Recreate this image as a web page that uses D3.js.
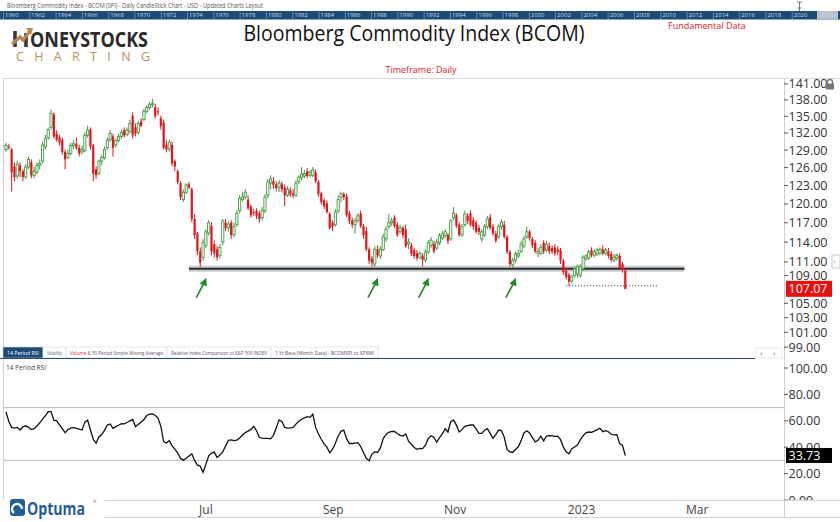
<!DOCTYPE html>
<html><head><meta charset="utf-8">
<script src="https://cdn.jsdelivr.net/npm/d3@7"></script>
<style>body{margin:0;background:#fff;overflow:hidden}svg{display:block;font-family:"Open Sans",sans-serif}</style>
</head><body><svg id="c" width="840" height="522"></svg>
<script>
const startDate = "2022-03-25";
const open = [
129.1,129.6,129.1,126.2,124.6,126.4,125.4,124.4,126.1,126.9,
124.7,125.2,126.4,127.1,129.6,131.2,133.0,135.3,131.9,131.2,
130.8,128.7,127.7,128.4,129.8,130.1,129.4,128.7,128.9,131.6,
132.6,129.8,125.7,125.0,127.1,127.7,129.4,130.8,131.4,129.9,
130.7,131.4,132.5,131.7,132.3,135.1,133.0,132.1,134.1,134.4,
135.9,136.6,137.1,136.7,135.9,134.6,133.9,129.9,129.2,129.9,
127.1,125.4,123.4,120.7,121.9,123.2,122.4,117.6,115.3,112.6,
111.7,113.5,115.4,116.5,113.7,112.9,112.0,114.0,117.0,116.2,
117.0,115.1,116.7,118.9,120.7,121.1,120.7,119.6,118.7,118.9,
118.5,117.8,118.9,121.4,123.4,123.7,123.2,122.7,123.2,122.7,
121.4,122.2,121.7,121.4,123.7,124.4,124.6,125.4,124.7,124.7,
125.2,123.6,121.7,120.6,120.1,118.4,117.0,116.7,118.9,121.1,
121.6,121.2,118.5,117.4,116.7,117.4,118.5,116.5,115.7,112.9,
111.5,110.7,112.9,111.9,112.9,114.5,116.4,117.0,117.8,116.7,
115.6,116.2,116.0,113.7,113.5,112.8,112.3,111.6,111.9,111.3,
112.5,113.5,113.7,113.1,113.9,114.6,115.0,115.1,114.5,117.8,
118.2,116.7,115.1,116.7,118.1,118.5,117.4,117.0,116.2,114.5,
115.1,116.4,117.9,116.4,115.3,114.8,116.4,116.7,114.8,112.5,
110.6,111.3,111.9,112.6,113.4,114.8,115.6,114.5,113.9,112.3,
112.3,113.9,112.8,113.4,113.1,113.2,112.9,112.8,111.2,109.7,
109.1,108.2,109.0,109.2,109.0,110.0,111.5,111.6,112.8,112.0,
112.2,112.3,112.9,112.3,112.6,112.2,111.3,111.6,111.9,110.7,
109.7];
const high = [
130.3,130.1,129.4,126.9,127.2,126.9,125.7,126.6,127.9,127.4,
126.1,126.9,127.4,130.5,131.7,133.0,136.2,135.7,132.5,131.7,
131.2,129.1,129.1,130.3,130.7,131.2,129.9,129.8,132.1,133.3,
133.0,130.1,126.2,127.4,128.2,129.6,131.2,132.5,131.9,131.0,
131.9,132.6,133.0,133.0,134.4,135.7,133.7,134.2,134.6,136.4,
137.1,137.6,138.2,137.3,136.6,135.1,134.4,130.7,130.8,130.5,
127.4,125.7,123.7,122.4,123.4,123.6,122.7,118.4,115.6,113.2,
114.5,116.0,117.4,117.1,114.2,113.4,113.7,117.6,117.6,117.3,
117.4,117.0,119.0,121.4,121.9,122.4,121.4,119.9,119.2,119.3,
118.9,119.5,121.6,124.1,124.7,124.4,123.7,123.9,123.7,123.2,
122.9,122.7,122.4,123.9,124.7,126.1,125.6,125.9,125.6,126.1,
125.7,123.9,122.0,120.9,120.6,118.7,117.4,119.2,121.4,122.0,
121.9,121.7,118.9,117.8,117.8,118.5,118.9,116.8,116.4,113.2,
111.9,113.4,113.5,113.4,115.3,116.5,118.4,117.8,118.2,117.1,
116.7,116.5,116.7,114.6,113.9,113.1,112.8,112.6,112.3,112.9,
114.3,114.8,114.2,114.5,115.4,115.7,116.0,115.4,117.6,119.5,
118.5,117.1,116.8,118.9,118.5,119.0,117.9,117.4,116.7,116.0,
116.8,118.1,118.4,116.8,115.7,116.8,117.6,117.3,115.1,112.8,
111.6,112.6,112.8,114.2,115.0,116.4,115.9,114.8,114.3,113.1,
113.7,114.3,114.2,113.9,113.5,113.7,113.4,113.1,111.5,110.0,
109.4,109.1,110.3,110.6,110.7,112.0,112.2,112.8,113.2,112.9,
113.1,113.2,113.5,113.1,113.1,112.6,112.2,112.3,112.3,111.0,
110.0];
const low = [
128.7,129.1,122.0,123.7,124.1,124.4,123.7,124.1,125.7,124.2,
124.2,124.9,125.7,126.7,129.1,130.8,132.6,131.0,130.5,129.8,
128.2,125.7,127.4,128.1,129.2,129.1,127.9,128.2,128.6,131.2,
129.1,123.7,124.1,124.7,126.4,127.4,129.1,130.5,127.9,129.4,
130.3,131.0,131.2,131.4,131.9,131.0,131.4,131.7,133.0,134.1,
135.5,136.2,136.6,134.6,135.1,132.6,129.1,128.6,128.7,126.2,
125.4,123.2,120.6,120.3,121.6,122.4,117.1,114.5,112.0,110.3,
111.2,113.1,115.0,112.0,111.7,111.2,111.5,113.5,115.7,115.6,
114.5,114.8,116.4,118.5,120.4,120.7,119.0,117.8,118.1,117.6,
117.0,117.3,118.5,120.9,122.4,122.4,122.0,121.9,121.9,119.6,
121.1,121.1,120.9,121.1,123.2,123.9,124.2,124.2,124.4,124.4,
123.4,121.2,119.9,119.2,118.4,115.9,115.7,116.4,118.5,120.3,
120.6,117.9,116.8,116.2,115.3,117.0,116.2,114.5,112.6,110.7,
110.3,110.3,111.6,111.5,112.6,114.0,116.0,116.5,116.2,114.8,
115.3,114.6,113.1,112.9,111.9,111.5,111.2,111.5,110.3,110.9,
112.2,113.1,112.3,112.8,113.5,114.3,114.6,113.7,114.2,117.4,
116.2,114.8,114.8,116.4,116.8,116.4,115.9,115.3,115.1,114.0,
114.8,116.0,115.9,115.0,113.9,114.5,115.9,114.5,112.2,110.3,
110.1,110.9,111.6,112.3,113.1,114.5,114.2,113.1,112.3,111.7,
112.0,112.2,112.5,112.2,112.2,111.9,112.0,110.7,109.1,108.4,
107.5,107.8,108.7,108.7,108.7,109.7,111.2,111.3,111.7,111.7,
111.9,112.0,112.0,112.0,111.5,111.0,111.0,111.2,109.8,109.4,
107.0];
const close = [
129.8,129.4,125.2,124.4,126.6,125.4,124.4,126.1,127.4,124.7,
125.4,126.4,126.7,129.9,131.0,132.6,135.5,131.4,130.8,130.3,
128.7,127.4,128.4,129.8,130.1,129.4,128.4,129.1,131.6,132.5,
129.6,125.0,124.7,127.1,127.7,129.1,130.7,131.9,129.4,130.7,
131.4,132.1,131.6,132.5,133.7,131.6,131.9,133.7,133.3,135.9,
136.6,137.1,137.3,135.0,135.7,133.2,129.4,129.1,130.3,126.7,
126.2,123.6,121.1,121.9,123.1,122.7,117.6,115.1,112.6,110.9,
113.9,115.6,117.0,112.6,112.3,111.7,113.2,117.3,116.2,116.8,
115.1,116.4,118.5,120.9,121.1,121.9,119.3,118.2,118.5,118.1,
117.6,119.0,121.1,123.6,124.1,123.1,122.6,123.4,122.4,121.4,
122.4,121.6,121.4,123.4,124.4,124.9,125.0,124.6,125.2,125.6,
123.7,121.6,120.3,119.6,118.7,116.2,116.4,118.7,120.7,121.7,
121.1,118.2,117.3,116.7,117.3,118.1,116.5,115.1,112.9,111.2,
110.9,112.9,112.0,112.9,114.8,116.0,117.0,117.3,116.5,115.1,
116.2,115.1,113.4,114.0,112.2,111.9,111.6,112.3,111.3,112.5,
113.9,114.3,112.6,114.0,115.0,115.3,115.6,114.2,117.3,118.5,
116.5,115.1,116.4,118.4,117.3,116.7,116.4,115.6,115.6,115.6,
116.4,117.6,116.2,115.3,114.2,116.4,117.1,114.8,112.5,110.7,
111.2,112.2,112.3,113.7,114.5,115.6,114.6,113.5,112.6,112.6,
113.2,112.6,113.7,112.6,112.6,112.3,112.5,111.2,109.5,108.8,
108.1,108.8,110.0,110.3,110.3,111.7,111.9,112.5,112.0,112.5,
112.8,112.9,112.3,112.8,111.9,111.3,111.7,112.0,110.1,109.8,
107.07];
const rsi = [
66.7,59.5,55,54.5,55,53,55.4,56.2,55,53.4,
54,56,58.5,61.2,64,67,67,60.5,60,57,
54,51,53.4,54.5,54.8,54.2,53.6,53,59,60.5,
53,46,43,47.8,49.6,52.8,56.8,57.6,54.3,55.6,
56.6,57.8,57.7,58.7,60,61,55.5,57.3,58.9,61,
64,65,65.2,64.2,62,56,44.2,43.2,45,41,
38.5,35.6,31.5,30.2,31.6,33.3,35,30,26.4,25.6,
21,27,33.5,35.5,36.3,32.2,34,36.4,41,45.2,
45.6,45,45.4,47,49.2,51.1,52.2,53.5,55.9,52.5,
47.3,46.8,46.7,46.7,46.3,49,54.5,60.7,59.5,55,
54.4,54.6,55,57.5,59.7,61.2,62.2,63.1,62.6,65,
55,50,46,42.5,40,35.7,38.5,43,48.5,52,
53,46.5,42.8,42.8,43.1,43.4,40.5,36,31.5,29.8,
34.8,36.4,36,39.5,46.5,49.7,51.3,52,51.9,50.4,
49,48.4,50,44.5,42.2,39.8,38.4,39.1,38.9,41.5,
46.5,48.7,47.5,43.7,47.2,50,54,51.5,59.5,60.5,
56.7,51.5,53.3,55.8,56.4,56.8,56.8,53.8,50.5,50.5,
52.8,54,50.5,46.8,49.5,53,52.6,47.5,38.3,36.3,
36.2,38.3,40.3,45,50.8,52.4,50.8,47.3,44.1,45.2,
48.3,44.8,48.5,48.8,48.5,48.2,48.4,45.7,40,36.5,
35,38.8,40.2,41.6,45.5,48.7,50.9,51.5,51.2,52.2,
53.3,54.3,51.8,52.5,51.7,49.8,49.3,49.5,42.7,41.4,
33.73];
const priceTicks = [141,138,135,132,129,126,123,120,117,114,111,109,105,103,101,99];
const rsiTicks = [100,80,60,40,20,0];
const rsiBands = [70,30];
const monthTicks = ["2022-07","2022-09","2022-11","2023-01","2023-03"];
const monthLabels = ["Jul","Sep","Nov","2023","Mar"];
const yearLabels = ["1960","1962","1964","1966","1968","1970","1972","1974","1976","1978","1980","1982","1984","1986","1988","1990","1992","1994","1996","1998","2000","2002","2004","2006","2008","2010","2012","2014","2016","2018","2020","2022"];
const supportLevel = 110.0, supportFrom = 65, supportTo = 241;
const janLow = 107.5, janLowFrom = 199, janLowTo = 232;
const touchIdx = [69,130,148,179];
const tabs = ["14 Period RSI","Volatility","Volume & 50 Period Simple Moving Average","Relative Index Comparison to S&P 500 INDEX","1 Yr Beta (Month Data) - BCOMSPI to SPXMI"];

// ---- dates (weekdays) ----
const dates = [];
{ let d = new Date(startDate+"T00:00:00"); while (dates.length < 290) { const w = d.getDay(); if (w!==0 && w!==6) dates.push(new Date(d)); d.setDate(d.getDate()+1); } }

const svg = d3.select("#c");
const UP="#3f9a3f", DN="#e3141b", NAVY="#1c4b77";

const x = d3.scaleLinear().domain([0, close.length-1]).range([6, 625.3]);
const y = d3.scaleLog().domain([97.7, 142.5]).range([357, 76]);
const yr = d3.scaleLinear().domain([0,100]).range([500, 368]);
const AX = 784;

// ---- top header ----
svg.append("text").attr("x",7).attr("y",7.5).attr("font-size",6.6).attr("fill","#555")
  .attr("textLength",256).attr("lengthAdjust","spacingAndGlyphs")
  .text("Bloomberg Commodity Index - BCOM (SPI) - Daily CandleStick Chart - USD - Updated Charts Layout");
svg.append("rect").attr("x",0).attr("y",11).attr("width",840).attr("height",8.5).attr("fill",NAVY);
svg.append("rect").attr("x",817).attr("y",11).attr("width",21).attr("height",8.5).attr("fill","#b8c2cc");
const yrScale = d3.scaleLinear().domain([0, yearLabels.length-1]).range([5, 820]);
const yg = svg.append("g");
yearLabels.forEach((t,k)=>{
  const xx = yrScale(k);
  yg.append("line").attr("x1",xx-1.5).attr("x2",xx-1.5).attr("y1",12).attr("y2",19).attr("stroke","#9fb3c8").attr("stroke-width",0.6);
  yg.append("text").attr("x",xx).attr("y",17.3).attr("font-size",6).attr("fill","#c9d6e3").text(t);
});
// pin icon
svg.append("path").attr("d","M797,2 h5 M799.5,2 v6 M797.5,8 h4 M799.5,8 v3").attr("stroke","#777").attr("stroke-width",1).attr("fill","none");

// logo
const lg = svg.append("g");
lg.append("path").attr("d","M15,47 L15,31 M26,47 L26,33").attr("stroke","#3a3a3a").attr("stroke-width",3.6);
lg.append("path").attr("d","M12,44 L20,37 L23,40 L30,31").attr("stroke","#b8874c").attr("stroke-width",3.2).attr("fill","none");
lg.append("path").attr("d","M26,28 L33,28 L31,35 Z").attr("fill","#b8874c");
lg.append("text").attr("x",30).attr("y",47).attr("font-size",21).attr("font-weight",700).attr("fill","#2b2b2b")
  .attr("textLength",118).attr("lengthAdjust","spacingAndGlyphs").text("ONEYSTOCKS");
lg.append("text").attr("x",16).attr("y",61).attr("font-size",12.5).attr("fill","#b8925a")
  .attr("textLength",134).attr("lengthAdjust","spacing").text("CHARTING");

svg.append("text").attr("x",414).attr("y",40.5).attr("text-anchor","middle").attr("font-size",21.5).attr("fill","#111")
  .attr("textLength",341).attr("lengthAdjust","spacingAndGlyphs").text("Bloomberg Commodity Index (BCOM)");
svg.append("text").attr("x",668).attr("y",28.5).attr("font-size",9).attr("fill","#e0202a").text("Fundamental Data");
svg.append("text").attr("x",421).attr("y",73).attr("text-anchor","middle").attr("font-size",9).attr("fill","#e0202a").text("Timeframe: Daily");

// frame lines
svg.append("line").attr("x1",3).attr("x2",840).attr("y1",78.5).attr("y2",78.5).attr("stroke","#d8d8d8");
svg.append("line").attr("x1",3.5).attr("x2",3.5).attr("y1",78).attr("y2",500).attr("stroke","#d0d0d0");
svg.append("line").attr("x1",AX+0.5).attr("x2",AX+0.5).attr("y1",78).attr("y2",517).attr("stroke","#cfcfcf");

// ---- price panel ----
svg.append("defs").append("clipPath").attr("id","cp").append("rect").attr("x",4).attr("y",79).attr("width",AX-4).attr("height",266);
const pg = svg.append("g").attr("clip-path","url(#cp)");
pg.append("line").attr("x1",x(supportFrom)).attr("x2",x(supportTo)).attr("y1",y(supportLevel)).attr("y2",y(supportLevel))
  .attr("stroke","#c9cdd1").attr("stroke-width",6);
pg.append("line").attr("x1",x(supportFrom)).attr("x2",x(supportTo)).attr("y1",y(supportLevel)).attr("y2",y(supportLevel))
  .attr("stroke","#2a2a2a").attr("stroke-width",2);
pg.append("line").attr("x1",x(janLowFrom)).attr("x2",x(janLowTo)).attr("y1",y(janLow)).attr("y2",y(janLow))
  .attr("stroke","#333").attr("stroke-width",1).attr("stroke-dasharray","1,2");

const cd = close.map((c,i)=>({i,o:open[i],h:high[i],l:low[i],c}));
pg.selectAll("line.w").data(cd).join("line").attr("class","w")
  .attr("x1",d=>x(d.i)).attr("x2",d=>x(d.i)).attr("y1",d=>y(d.h)).attr("y2",d=>y(d.l))
  .attr("stroke",d=>d.c>=d.o?UP:DN).attr("stroke-width",1);
pg.selectAll("rect.b").data(cd).join("rect").attr("class","b")
  .attr("x",d=>x(d.i)-1.1).attr("width",2.2)
  .attr("y",d=>y(Math.max(d.o,d.c))).attr("height",d=>Math.max(1,Math.abs(y(d.o)-y(d.c))))
  .attr("fill",d=>d.c>=d.o?"#fff":DN).attr("stroke",d=>d.c>=d.o?UP:"none").attr("stroke-width",0.9);

// arrows
const ag = svg.append("g");
touchIdx.forEach(i=>{
  const tx = x(i)+6, ty = y(supportLevel)+9;
  ag.append("line").attr("x1",tx-10).attr("y1",ty+20).attr("x2",tx-2).attr("y2",ty+5).attr("stroke","#1f8a1f").attr("stroke-width",1.6);
  ag.append("path").attr("d",`M${tx},${ty} L${tx-6.5},${ty+6} L${tx+0.5},${ty+8.5} Z`).attr("fill","#1f8a1f");
});

// price axis
const pax = svg.append("g");
priceTicks.forEach(v=>{
  const yy = y(v);
  pax.append("line").attr("x1",AX).attr("x2",AX+4).attr("y1",yy).attr("y2",yy).attr("stroke","#555");
  pax.append("text").attr("x",AX+4.5).attr("y",yy+4.5).attr("font-size",12.5).attr("fill","#333").text(d3.format(".2f")(v));
});
const lastC = close[close.length-1];
svg.append("rect").attr("x",AX+2).attr("y",y(lastC)-8).attr("width",46).attr("height",16).attr("fill","#ea0f0f");
svg.append("text").attr("x",AX+4.5).attr("y",y(lastC)+4.5).attr("font-size",12.5).attr("fill","#fff").text(d3.format(".2f")(lastC));
// lock
svg.append("rect").attr("x",826).attr("y",83.5).attr("width",8).attr("height",6).attr("fill","#777");
svg.append("path").attr("d","M827.5,84 v-2 a2.5,2.5 0 0 1 5,0 v2").attr("stroke","#777").attr("stroke-width",1.4).attr("fill","none");
// side tab
svg.append("rect").attr("x",832).attr("y",255).attr("width",8).attr("height",13).attr("fill","#fff").attr("stroke","#ccc");
svg.append("text").attr("x",833.5).attr("y",264).attr("font-size",7).attr("fill","#888").text("‹");

// ---- tabs ----
const tabX = [3,43,66,167,271,378];
const tg = svg.append("g");
tabs.forEach((t,k)=>{
  const x0 = tabX[k], w = tabX[k+1]-tabX[k];
  tg.append("rect").attr("x",x0).attr("y",347).attr("width",w).attr("height",11).attr("fill",k===0?NAVY:"#fff").attr("stroke","#d8d8d8").attr("stroke-width",0.6);
  const tx = tg.append("text").attr("x",x0+4).attr("y",354.5).attr("font-size",5.4).attr("fill",k===0?"#fff":"#555")
    .attr("textLength",w-8).attr("lengthAdjust","spacingAndGlyphs");
  if (t.startsWith("Volume")) { tx.append("tspan").attr("fill","#d8262e").text("Volume"); tx.append("tspan").text(t.slice(6)); }
  else tx.text(t);
});
svg.append("line").attr("x1",0).attr("x2",755).attr("y1",358.5).attr("y2",358.5).attr("stroke",NAVY).attr("stroke-width",1.2);
svg.append("rect").attr("x",756).attr("y",348).attr("width",26).attr("height",10).attr("fill","#fff").attr("stroke","#ddd").attr("stroke-width",0.6);
svg.append("text").attr("x",760).attr("y",356).attr("font-size",8).attr("fill","#666").text("‹");
svg.append("text").attr("x",773).attr("y",356).attr("font-size",8).attr("fill","#666").text("›");
svg.append("text").attr("x",6).attr("y",370).attr("font-size",6.5).attr("fill","#444").text("14 Period RSI");

// ---- RSI panel ----
rsiBands.forEach(v=>{
  svg.append("line").attr("x1",4).attr("x2",AX).attr("y1",yr(v)).attr("y2",yr(v)).attr("stroke","#bdbdbd").attr("stroke-width",1);
});
svg.append("path").datum(rsi).attr("fill","none").attr("stroke","#111").attr("stroke-width",1.3)
  .attr("d",d3.line().x((d,i)=>x(i)).y(d=>yr(d)));
const rax = svg.append("g");
rsiTicks.forEach(v=>{
  const yy = yr(v);
  rax.append("line").attr("x1",AX).attr("x2",AX+4).attr("y1",yy).attr("y2",yy).attr("stroke","#555");
  rax.append("text").attr("x",AX+4.5).attr("y",yy+4.5).attr("font-size",12.5).attr("fill","#333").text(d3.format(".2f")(v));
});
const lastR = rsi[rsi.length-1];
svg.append("rect").attr("x",AX+2).attr("y",yr(lastR)-7.5).attr("width",46).attr("height",15).attr("fill","#000");
svg.append("text").attr("x",AX+4.5).attr("y",yr(lastR)+4.5).attr("font-size",12.5).attr("fill","#fff").text(d3.format(".2f")(lastR));

// ---- bottom x axis ----
svg.append("rect").attr("x",0).attr("y",500).attr("width",840).attr("height",22).attr("fill","#fff");
svg.append("line").attr("x1",105).attr("x2",840).attr("y1",500.5).attr("y2",500.5).attr("stroke","#d5d5d5");
svg.append("line").attr("x1",105).attr("x2",840).attr("y1",517.5).attr("y2",517.5).attr("stroke","#d5d5d5");
svg.append("line").attr("x1",AX+0.5).attr("x2",AX+0.5).attr("y1",500).attr("y2",517).attr("stroke","#cfcfcf");
const fmtM = d3.timeFormat("%Y-%m");
monthTicks.forEach((m,k)=>{
  const idx = dates.findIndex(d=>fmtM(d)===m);
  svg.append("text").attr("x",x(idx)-4).attr("y",514).attr("font-size",12).attr("fill","#444").text(monthLabels[k]);
});
// Optuma logo
const og = svg.append("g");
og.append("rect").attr("x",10).attr("y",499).attr("width",15).attr("height",17).attr("rx",3).attr("fill","#1f5f95");
og.append("path").attr("d","M14,513 a5,5 0 1 1 8,-4").attr("stroke","#fff").attr("stroke-width",2.2).attr("fill","none");
og.append("text").attr("x",27).attr("y",515).attr("font-size",17).attr("font-weight",700).attr("fill","#1f5f95")
  .attr("textLength",58).attr("lengthAdjust","spacingAndGlyphs").text("Optuma");
og.append("text").attr("x",93).attr("y",503).attr("font-size",4).attr("fill","#1f5f95").text("®");
</script></body></html>
